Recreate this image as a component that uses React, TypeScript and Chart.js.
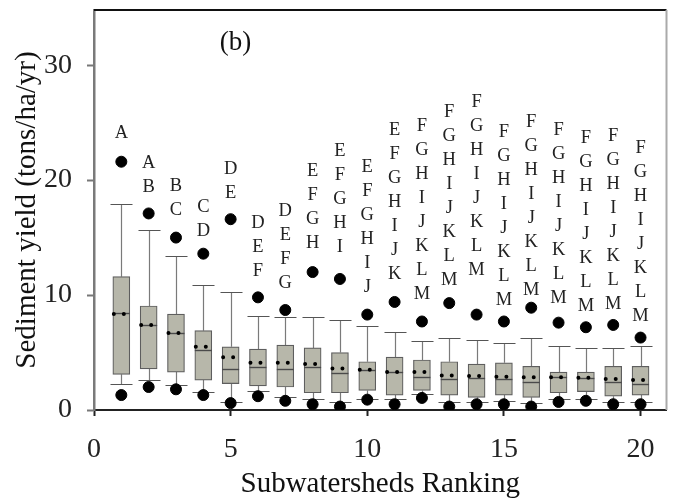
import { useEffect, useRef } from "react";
import { Chart, registerables } from "chart.js";

Chart.register(...registerables);

// Subwatershed rank (x position of each box)
const ranks = [1, 2, 3, 4, 5, 6, 7, 8, 9, 10, 11, 12, 13, 14, 15, 16, 17, 18, 19, 20];

// Sediment yield statistics (tons/ha/yr) for each ranked subwatershed
const upperPoint = [21.6, 17.1, 15.0, 13.6, 16.6, 9.8, 8.7, 12.0, 11.4, 8.3, 9.4, 7.7, 9.3, 8.3, 7.7, 8.9, 7.6, 7.2, 7.4, 6.3];
const whiskerHigh = [17.9, 15.7, 13.4, 10.9, 10.3, 8.2, 8.1, 8.1, 7.8, 7.3, 6.8, 6.0, 6.3, 6.1, 5.8, 6.3, 5.6, 5.4, 5.4, 5.6];
const quartile3 = [11.6, 9.05, 8.35, 6.9, 5.5, 5.3, 5.65, 5.4, 5.0, 4.2, 4.6, 4.35, 4.2, 4.0, 4.1, 3.8, 3.3, 3.3, 3.8, 3.8];
const meanValue = [8.35, 7.4, 6.7, 5.5, 4.6, 4.1, 4.1, 4.0, 3.6, 3.5, 3.3, 3.3, 3.0, 2.95, 2.9, 2.85, 2.85, 2.8, 2.7, 2.6];
const medianValue = [8.4, 7.4, 6.7, 5.2, 3.6, 3.7, 3.6, 3.7, 3.2, 3.5, 3.3, 2.9, 2.7, 2.8, 2.7, 2.45, 2.85, 2.8, 2.45, 2.25];
const quartile1 = [3.1, 3.57, 3.3, 2.6, 2.3, 2.1, 2.0, 1.5, 1.5, 1.7, 1.3, 1.7, 1.3, 1.1, 1.3, 1.1, 1.5, 1.6, 1.2, 1.3];
const whiskerLow = [2.3, 2.6, 2.2, 1.6, 0.7, 1.65, 1.1, 1.0, 0.7, 0.95, 0.95, 1.4, 0.7, 0.7, 0.8, 0.6, 1.0, 0.95, 0.7, 0.7];
const lowerPoint = [1.3, 2.0, 1.8, 1.3, 0.6, 1.2, 0.8, 0.5, 0.3, 0.9, 0.5, 1.05, 0.3, 0.5, 0.5, 0.3, 0.7, 0.8, 0.5, 0.5];

// Significance groups (letters) and the y value of the lowest letter in each stack
const groupLetters = [
  "A", "AB", "BC", "CD", "DE", "DEF", "DEFG", "EFGH", "EFGHI", "EFGHIJ",
  "EFGHIJK", "FGHIJKLM", "FGHIJKLM", "FGHIJKLM", "FGHIJKLM", "FGHIJKLM",
  "FGHIJKLM", "FGHIJKLM", "FGHIJKLM", "FGHIJKLM",
];
const letterBase = [24.1, 19.4, 17.4, 15.6, 18.9, 12.1, 11.0, 14.5, 14.2, 10.7, 11.8, 10.1, 11.3, 12.2, 9.6, 10.4, 9.7, 9.0, 9.2, 8.2];

const xTicks = [0, 5, 10, 15, 20];
const yTicks = [0, 10, 20, 30];

const SERIF = "'Liberation Serif', 'Times New Roman', serif";
const BOX_WIDTH = 17;
const CAP_HALF = 11;
const LETTER_STEP = 24;

const boxPlotParts = {
  id: "boxPlotParts",
  beforeDatasetsDraw(chart: any) {
    const { ctx, scales } = chart;
    const x = scales.x;
    const y = scales.y;
    ctx.save();
    ranks.forEach((r, i) => {
      const px = Math.round(x.getPixelForValue(r)) + 0.5;
      const yq3 = y.getPixelForValue(quartile3[i]);
      const yq1 = y.getPixelForValue(quartile1[i]);
      const yHi = Math.round(y.getPixelForValue(whiskerHigh[i])) + 0.5;
      const yLo = Math.round(y.getPixelForValue(whiskerLow[i])) + 0.5;
      ctx.strokeStyle = "#7a7a7a";
      ctx.lineWidth = 1.2;
      ctx.beginPath();
      ctx.moveTo(px, yq3);
      ctx.lineTo(px, yHi);
      ctx.moveTo(px, yq1);
      ctx.lineTo(px, yLo);
      ctx.stroke();
      ctx.strokeStyle = "#555";
      ctx.beginPath();
      ctx.moveTo(px - CAP_HALF, yHi);
      ctx.lineTo(px + CAP_HALF, yHi);
      ctx.moveTo(px - CAP_HALF, yLo);
      ctx.lineTo(px + CAP_HALF, yLo);
      ctx.stroke();
    });
    ctx.restore();
  },
  afterDatasetDraw(chart: any, args: any) {
    if (args.meta.type !== "bar") return;
    const { ctx, scales } = chart;
    const x = scales.x;
    const y = scales.y;
    ctx.save();
    ranks.forEach((r, i) => {
      const px = x.getPixelForValue(r);
      const left = px - BOX_WIDTH / 2;
      const right = px + BOX_WIDTH / 2;
      // median line
      const ym = Math.round(y.getPixelForValue(medianValue[i])) + 0.5;
      ctx.setLineDash([]);
      ctx.strokeStyle = "#4a4a4a";
      ctx.lineWidth = 1.4;
      ctx.beginPath();
      ctx.moveTo(left, ym);
      ctx.lineTo(right, ym);
      ctx.stroke();
      // mean as a dotted line
      const ya = y.getPixelForValue(meanValue[i]);
      ctx.strokeStyle = "#000";
      ctx.lineWidth = 4;
      ctx.lineCap = "round";
      ctx.setLineDash([0, 10]);
      ctx.beginPath();
      ctx.moveTo(left + 1, ya);
      ctx.lineTo(right, ya);
      ctx.stroke();
      ctx.lineCap = "butt";
    });
    ctx.setLineDash([]);
    ctx.restore();
  },
  afterDraw(chart: any) {
    const { ctx, scales, chartArea } = chart;
    const x = scales.x;
    const y = scales.y;
    ctx.save();
    // letters above each box
    ctx.fillStyle = "#222";
    ctx.font = `18.5px ${SERIF}`;
    ctx.textAlign = "center";
    ctx.textBaseline = "middle";
    ranks.forEach((r, i) => {
      const px = x.getPixelForValue(r);
      const base = y.getPixelForValue(letterBase[i]);
      const letters = groupLetters[i].split("");
      const n = letters.length;
      letters.forEach((ch, k) => {
        ctx.fillText(ch, px, base - (n - 1 - k) * LETTER_STEP);
      });
    });
    // frame: top and right edges
    ctx.strokeStyle = "#111";
    ctx.lineWidth = 2;
    ctx.beginPath();
    ctx.moveTo(chartArea.left, chartArea.top);
    ctx.lineTo(chartArea.right, chartArea.top);
    ctx.stroke();
    ctx.strokeStyle = "#aaa";
    ctx.beginPath();
    ctx.moveTo(chartArea.right, chartArea.top);
    ctx.lineTo(chartArea.right, chartArea.bottom);
    ctx.stroke();
    // panel label
    ctx.fillStyle = "#111";
    ctx.font = `27px ${SERIF}`;
    ctx.fillText("(b)", chartArea.left + (chartArea.right - chartArea.left) * 0.247, chartArea.top + 33);
    ctx.restore();
  },
};

export default function App() {
  const canvasRef = useRef<HTMLCanvasElement | null>(null);

  useEffect(() => {
    const canvas = canvasRef.current;
    if (!canvas) return;
    const chart = new Chart(canvas, {
      type: "bar",
      data: {
        datasets: [
          {
            type: "scatter",
            label: "Upper",
            data: ranks.map((r, i) => ({ x: r, y: upperPoint[i] })),
            backgroundColor: "#000",
            borderColor: "#000",
            pointRadius: 5.5,
            pointHoverRadius: 5.5,
            order: 1,
          } as any,
          {
            type: "scatter",
            label: "Lower",
            data: ranks.map((r, i) => ({ x: r, y: lowerPoint[i] })),
            backgroundColor: "#000",
            borderColor: "#000",
            pointRadius: 5.5,
            pointHoverRadius: 5.5,
            order: 1,
          } as any,
          {
            type: "bar",
            label: "Interquartile range",
            data: ranks.map((r, i) => ({ x: r, y: [quartile1[i], quartile3[i]] })),
            backgroundColor: "#b7b7aa",
            borderColor: "#5e5e5e",
            borderWidth: 1.2,
            borderSkipped: false,
            barThickness: BOX_WIDTH,
            grouped: false,
            order: 2,
          } as any,
        ],
      },
      options: {
        responsive: false,
        animation: false,
        events: [],
        layout: { padding: { top: 10, right: 1, left: 0, bottom: 0 } },
        plugins: {
          legend: { display: false },
          tooltip: { enabled: false },
        },
        scales: {
          x: {
            type: "linear",
            offset: false,
            min: 0,
            max: 20.95,
            afterFit: (scale: any) => {
              scale.height = 92;
              scale.paddingLeft = 0;
              scale.paddingRight = 0;
              scale.paddingTop = 0;
              scale.paddingBottom = 0;
            },
            afterBuildTicks: (scale: any) => {
              scale.ticks = xTicks.map((v) => ({ value: v }));
            },
            ticks: {
              includeBounds: false,
              padding: 17,
              color: "#222",
              font: { family: SERIF, size: 28 },
              maxRotation: 0,
              callback: (v: any) => String(v),
            },
            grid: {
              display: true,
              offset: false,
              drawOnChartArea: false,
              drawTicks: true,
              tickLength: 6,
              tickWidth: 2,
              tickColor: "#222",
            },
            border: { display: true, color: "#222", width: 2 },
            title: {
              display: true,
              text: "Subwatersheds Ranking",
              color: "#111",
              font: { family: SERIF, size: 29 },
              padding: { top: 0, bottom: 0 },
            },
          },
          y: {
            type: "linear",
            min: 0,
            max: 34.8,
            afterFit: (scale: any) => {
              scale.width = 94;
              scale.paddingLeft = 0;
              scale.paddingRight = 0;
              scale.paddingTop = 0;
              scale.paddingBottom = 0;
            },
            afterBuildTicks: (scale: any) => {
              scale.ticks = yTicks.map((v) => ({ value: v }));
            },
            ticks: {
              includeBounds: false,
              padding: 15,
              color: "#222",
              font: { family: SERIF, size: 28 },
              callback: (v: any) => String(v),
            },
            grid: {
              display: true,
              drawOnChartArea: false,
              drawTicks: true,
              tickLength: 7,
              tickWidth: 2,
              tickColor: "#777",
            },
            border: { display: true, color: "#7a7a7a", width: 2.5 },
            title: {
              display: true,
              text: "Sediment yield (tons/ha/yr)",
              color: "#111",
              font: { family: SERIF, size: 29 },
              padding: { top: 10, bottom: 0 },
            },
          },
        },
      },
      plugins: [boxPlotParts],
    });
    return () => chart.destroy();
  }, []);

  return (
    <canvas
      ref={canvasRef}
      width={673}
      height={502}
      style={{ position: "fixed", left: 0, top: 0, width: 673, height: 502 }}
    />
  );
}
